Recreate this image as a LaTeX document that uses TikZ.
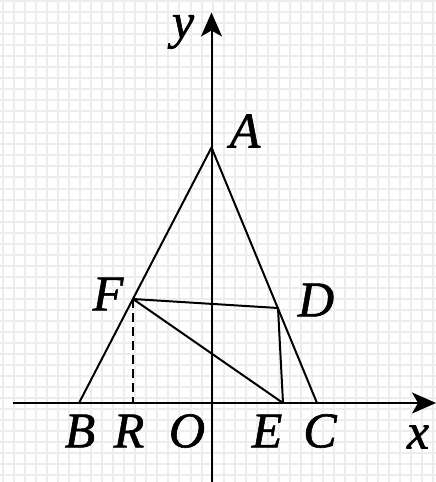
\documentclass[tikz,border=0pt]{standalone}
\usepackage{fontspec}
\setmainfont{Liberation Serif}
\newfontfamily\lblfont[ItalicFeatures={FakeBold=1.2}]{Liberation Serif}
\usetikzlibrary{arrows.meta}
\begin{document}
\begin{tikzpicture}[x=1pt,y=-1pt,
  gridline/.style={draw=black!7,line width=2pt},
  axis/.style={line width=2pt,-{Stealth[length=24pt,width=21pt,inset=6pt]}},
  edge/.style={line width=2pt,line join=round},
  dashline/.style={line width=2pt,dash pattern=on 9pt off 5pt},
  lbl/.style={inner sep=0pt,font=\lblfont\fontsize{50}{50}\selectfont\itshape}]
\useasboundingbox (0,0) rectangle (436,482);
\fill[white] (0,0) rectangle (436,482);
% grid
\foreach \k in {0,...,39} {\draw[gridline] ({3+11.03*\k},0) -- ({3+11.03*\k},482);}
\foreach \k in {0,...,43} {\draw[gridline] (0,{1+11.03*\k}) -- (436,{1+11.03*\k});}
% points
\coordinate (A) at (211.5,147.5);
\coordinate (B) at (79,403);
\coordinate (C) at (317,403);
\coordinate (F) at (133,299);
\coordinate (D) at (278,308);
\coordinate (E) at (283,403);
\coordinate (R) at (133,403);
\coordinate (xs) at (13,403);
\coordinate (xe) at (436,403);
\coordinate (ys) at (211.5,482);
\coordinate (ye) at (211.5,12.5);
% axes
\draw[axis] (xs) -- (xe);
\draw[axis] (ys) -- (ye);
% figure
\draw[edge] (B) -- (A) -- (C);
\draw[edge] (F) -- (D) -- (E) -- cycle;
\draw[dashline] (F) -- (R);
% labels
\node[lbl] (ly) at (183,32) {y};
\node[lbl] (lx) at (418,437) {x};
\node[lbl] (lA) at (245,131) {A};
\node[lbl] (lF) at (108,294) {F};
\node[lbl] (lD) at (316,300) {D};
\node[lbl] (lB) at (80,431) {B};
\node[lbl] (lR) at (129,431) {R};
\node[lbl] (lO) at (187,431) {O};
\node[lbl] (lE) at (267,431) {E};
\node[lbl] (lC) at (320,431) {C};
\end{tikzpicture}
\end{document}
